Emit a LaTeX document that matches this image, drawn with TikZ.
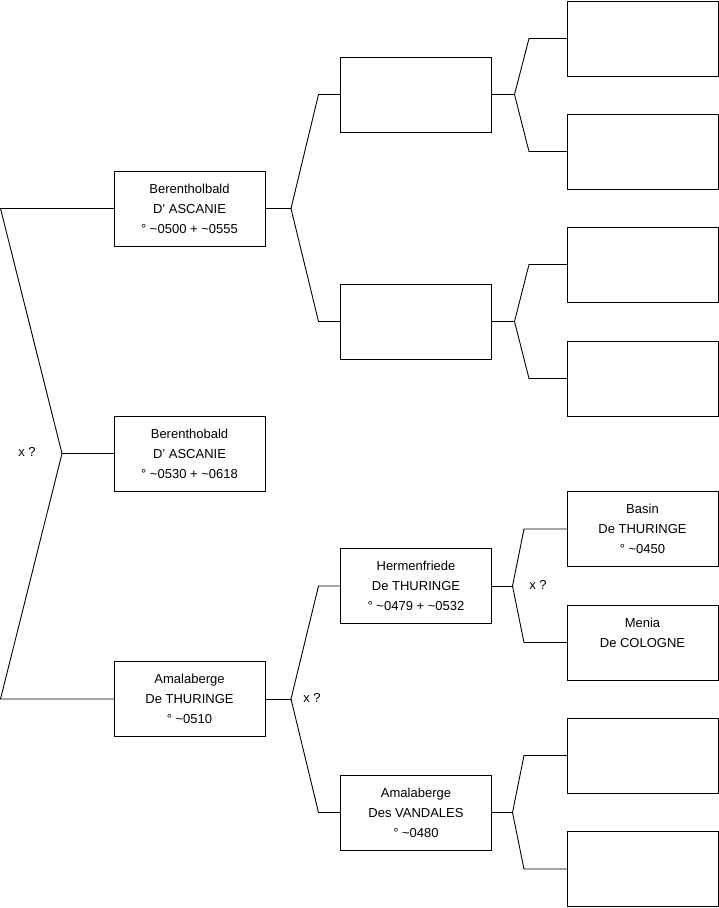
\documentclass[tikz,border=0pt]{standalone}
\usepackage{fontspec}
\setmainfont{Liberation Sans}
\usepackage{tikz}

\tikzset{
  person/.style={draw, line width=0.9pt, outer sep=0pt, inner sep=0pt,
    minimum width=151pt, minimum height=75pt, align=center,
    font=\fontsize{13}{20}\selectfont},
  mark x/.style={font=\fontsize{13}{15}\selectfont},
  link/.style={line width=0.9pt}
}

\begin{document}
\begin{tikzpicture}[x=1pt,y=-1pt]
\useasboundingbox (0,0) rectangle (719,908);

\node[person] (b1) at (189.5,208.5) {Berentholbald\\D' ASCANIE\\° \textasciitilde0500 + \textasciitilde0555};
\node[person] (b0) at (189.5,453.5) {Berenthobald\\D' ASCANIE\\° \textasciitilde0530 + \textasciitilde0618};
\node[person] (b2) at (189.5,699) {Amalaberge\\De THURINGE\\° \textasciitilde0510};

\node[person] (b11) at (416,94.5) {};
\node[person] (b12) at (416,321.5) {};
\node[person] (b21) at (416,586) {Hermenfriede\\De THURINGE\\° \textasciitilde0479 + \textasciitilde0532};
\node[person] (b22) at (416,812.5) {Amalaberge\\Des VANDALES\\° \textasciitilde0480};

\node[person] (b111) at (642.5,38.5) {};
\node[person] (b112) at (642.5,151.5) {};
\node[person] (b121) at (642.5,264.5) {};
\node[person] (b122) at (642.5,378.5) {};
\node[person] (b211) at (642.5,529) {Basin\\De THURINGE\\° \textasciitilde0450};
\node[person] (b212) at (642.5,642.5) {Menia\\De COLOGNE\\~};
\node[person] (b221) at (642.5,755.5) {};
\node[person] (b222) at (642.5,869) {};

\node[mark x] (x0) at (27,451.5) {x ?};
\node[mark x] (x2) at (312,697.5) {x ?};
\node[mark x] (x21) at (538,584.5) {x ?};

\coordinate (f0) at ([xshift=-52]b0.west);
\coordinate (f1) at ([xshift=26]b1.east);
\coordinate (f2) at ([xshift=26]b2.east);
\coordinate (f11) at ([xshift=23]b11.east);
\coordinate (f12) at ([xshift=23]b12.east);
\coordinate (f21) at ([xshift=21]b21.east);
\coordinate (f22) at ([xshift=21]b22.east);

\draw[link] (b0.west) -- (f0);
\draw[link] (b1.west) -- ++(-113.5,0) -- (f0) -- ([xshift=-113.5]b2.west) -- (b2.west);

\draw[link] (b1.east) -- (f1);
\draw[link] (b11.west) -- ++(-22,0) -- (f1) -- ([xshift=-22]b12.west) -- (b12.west);
\draw[link] (b2.east) -- (f2);
\draw[link] (b21.west) -- ++(-22,0) -- (f2) -- ([xshift=-22]b22.west) -- (b22.west);

\draw[link] (b11.east) -- (f11);
\draw[link] (b111.west) -- ++(-38,0) -- (f11) -- ([xshift=-38]b112.west) -- (b112.west);
\draw[link] (b12.east) -- (f12);
\draw[link] (b121.west) -- ++(-38,0) -- (f12) -- ([xshift=-38]b122.west) -- (b122.west);
\draw[link] (b21.east) -- (f21);
\draw[link] (b211.west) -- ++(-43,0) -- (f21) -- ([xshift=-43]b212.west) -- (b212.west);
\draw[link] (b22.east) -- (f22);
\draw[link] (b221.west) -- ++(-43,0) -- (f22) -- ([xshift=-43]b222.west) -- (b222.west);
\end{tikzpicture}
\end{document}
